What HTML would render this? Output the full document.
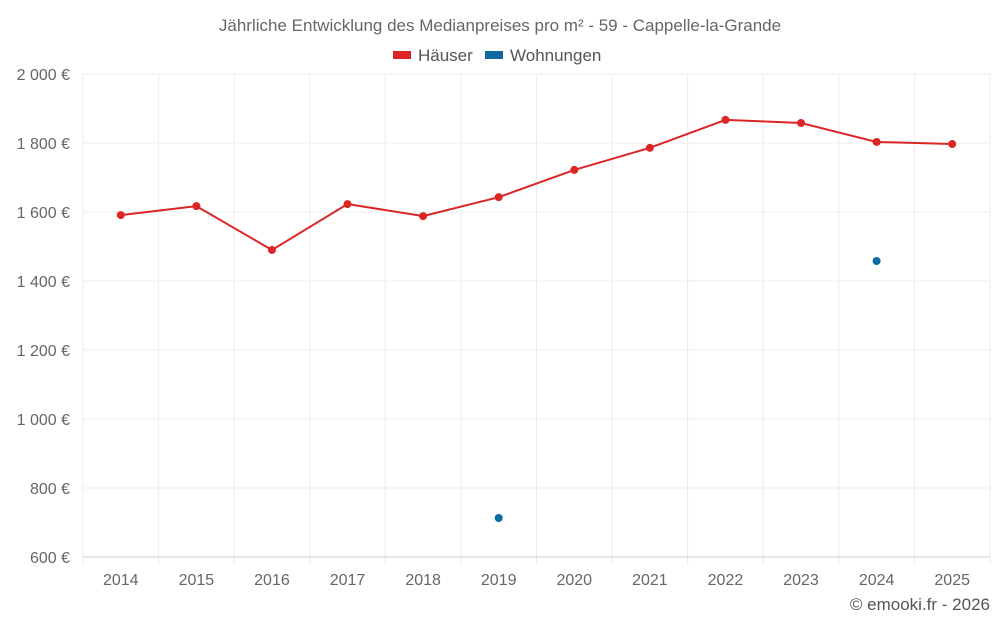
<!DOCTYPE html>
<html><head><meta charset="utf-8"><style>
body{margin:0;background:#fff;font-family:"Liberation Sans",sans-serif;}
svg text{font-family:"Liberation Sans",sans-serif;}
</style></head><body>
<svg id="chart" width="1000" height="625" viewBox="0 0 1000 625" xmlns="http://www.w3.org/2000/svg">
<text x="500" y="31" text-anchor="middle" font-size="17" fill="#666">Jährliche Entwicklung des Medianpreises pro m² - 59 - Cappelle-la-Grande</text>
<g>
<g><rect x="393" y="51" width="18" height="8" fill="#dc2626"/><text x="418" y="61" font-size="17" fill="#555">Häuser</text></g>
<g><rect x="485" y="51" width="18" height="8" fill="#0f6aa0"/><text x="510" y="61" font-size="17" fill="#555">Wohnungen</text></g>
</g>
<g id="grid"></g>
<g id="axes"></g>
<g id="marks"></g>
<text x="990" y="610" text-anchor="end" font-size="17" fill="#555">© emooki.fr - 2026</text>
</svg>
<script>
const years=[2014,2015,2016,2017,2018,2019,2020,2021,2022,2023,2024,2025];
const houses=[1591,1617,1490,1623,1588,1643,1722,1786,1867,1858,1803,1797];
const flats=[null,null,null,null,null,713,null,null,null,null,1458,null];
const yTicks=[600,800,1000,1200,1400,1600,1800,2000];
const L=83,R=990,T=74,B=557,yMin=600,yMax=2000;
const step=(R-L)/years.length;
const xs=i=>L+step*(i+0.5);
const ys=v=>B-(v-yMin)/(yMax-yMin)*(B-T);
const NS="http://www.w3.org/2000/svg";
function mk(tag,attrs,parent){const e=document.createElementNS(NS,tag);for(const k in attrs)e.setAttribute(k,attrs[k]);parent.appendChild(e);return e;}
const grid=document.getElementById('grid'),axes=document.getElementById('axes'),marks=document.getElementById('marks');
yTicks.forEach(t=>{
 const g=mk('line',{x1:L,x2:R,y1:ys(t),y2:ys(t),stroke:'#ececec'},grid);
 
 
 const tx=mk('text',{x:70,y:ys(t)+6,'text-anchor':'end','font-size':16,fill:'#666'},axes);
 tx.textContent=t.toLocaleString('fr-FR').replace(/\u202f|\u00a0/g,' ')+' €';
 
 
});
for(let i=0;i<=years.length;i++){
 const x=L+step*i;
 const g=mk('line',{x1:x,x2:x,y1:T,y2:B+8,stroke:'#ececec'},grid);
 
 
}
years.forEach((y,i)=>{
 const tx=mk('text',{x:xs(i),y:585,'text-anchor':'middle','font-size':16,fill:'#666'},axes);
 tx.textContent=y;
 
 
});
const ax=mk('line',{x1:L,x2:R,y1:B,y2:B,stroke:'#ccc'},axes);


const pts=houses.map((v,i)=>xs(i)+','+ys(v)).join(' ');
const pl=mk('polyline',{points:pts,fill:'none',stroke:'#dc2626','stroke-width':2},marks);


houses.forEach((v,i)=>{
 const c=mk('circle',{cx:xs(i),cy:ys(v),r:4,fill:'#dc2626'},marks);
 
 
});
flats.forEach((v,i)=>{
 if(v==null)return;
 const c=mk('circle',{cx:xs(i),cy:ys(v),r:4,fill:'#0f6aa0'},marks);
 
 
});
</script>
</body></html>
